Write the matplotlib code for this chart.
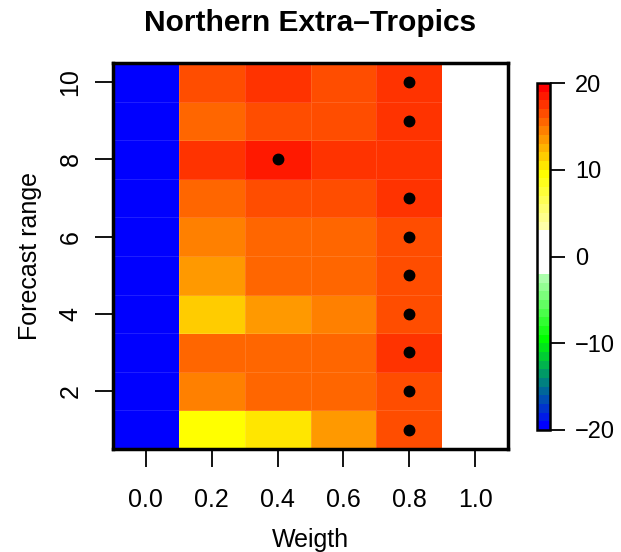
import numpy as np
import matplotlib
matplotlib.use("Agg")
import matplotlib.pyplot as plt
from matplotlib.colors import ListedColormap, BoundaryNorm, to_rgb

plt.rcParams["font.family"] = ["Liberation Sans", "DejaVu Sans"]

# skill score per forecast range (rows) and weight (columns)
weights = [0.0, 0.2, 0.4, 0.6, 0.8, 1.0]
forecast_range = [1, 2, 3, 4, 5, 6, 7, 8, 9, 10]
w_00 = [-20, -20, -20, -20, -20, -20, -20, -20, -20, -20]
w_02 = [9.5, 14.5, 15.5, 11.5, 13.5, 14.5, 15.5, 17.5, 15.5, 16.5]
w_04 = [10.5, 15.5, 15.5, 13.5, 15.5, 15.5, 16.5, 18.5, 16.5, 17.3]
w_06 = [13.5, 15.5, 15.5, 14.5, 15.5, 15.5, 16.5, 17.5, 16.5, 16.5]
w_08 = [16.5, 16.5, 17.5, 16.5, 16.5, 16.5, 17.5, 17.4, 17.5, 17.7]
w_10 = [0, 0, 0, 0, 0, 0, 0, 0, 0, 0]

cbar_ticks = [-20, -10, 0, 10, 20]


def mix(c1, c2, t):
    a, b = np.array(to_rgb(c1)), np.array(to_rgb(c2))
    return tuple(a + (b - a) * t)


# discrete palette, one colour per unit from -20 to 20
bounds = np.arange(-20, 21, 1)
cols = []
for v in bounds[:-1]:
    if v < -10:
        cols.append(mix("#0000ff", "#00ff00", (v + 20) / 10))
    elif v < -2:
        cols.append(mix("#00ff00", "#c4ffc4", (v + 10) / 8))
    elif v < 3:
        cols.append((1, 1, 1))
    elif v < 10:
        cols.append(mix("#ffffc4", "#ffff00", (v - 2) / 7))
    else:
        cols.append(mix("#ffff00", "#ff0000", (v - 9) / 10))
cmap = ListedColormap(cols)
norm = BoundaryNorm(bounds, cmap.N)

z = np.array([w_00, w_02, w_04, w_06, w_08, w_10]).T
x = np.array(weights)
y = np.array(forecast_range)
xe = np.append(x - 0.1, x[-1] + 0.1)
ye = np.append(y - 0.5, y[-1] + 0.5)

fig = plt.figure(figsize=(6.21, 5.52), dpi=100)
ax = fig.add_axes([113 / 621, 1 - 449 / 552, 395 / 621, 386 / 552])
mesh = ax.pcolormesh(xe, ye, z, cmap=cmap, norm=norm,
                     edgecolors=(1, 1, 1, 0.12), linewidth=0.6)

# best weight for each forecast range
best = x[np.argmax(z[:, :-1], axis=1)]
ax.plot(best, y, "o", color="black", ms=7.5)

ax.set_xlim(xe[0], xe[-1])
ax.set_ylim(ye[0], ye[-1])
ax.set_xticks(weights)
ax.set_xticklabels([f"{w:.1f}" for w in weights])
ax.set_yticks([2, 4, 6, 8, 10])
for s in ax.spines.values():
    s.set_linewidth(2.5)
ax.tick_params(axis="both", direction="out", length=13, width=1.3,
               labelsize=18, pad=15)
ax.tick_params(axis="y", labelrotation=90, pad=9)
for lab in ax.get_yticklabels():
    lab.set_va("center")

ax.set_xlabel("Weigth", fontsize=18)
ax.xaxis.set_label_coords(0.5, -0.205)
ax.set_ylabel("Forecast range", fontsize=18)
ax.yaxis.set_label_coords(-0.18, 0.5)

fig.text(310 / 621, 1 - 23 / 552, "Northern Extra\u2013Tropics",
         ha="center", va="center", fontsize=21.5, fontweight="bold")

cax = fig.add_axes([537 / 621, 1 - 430 / 552, 13 / 621, 347 / 552])
cb = fig.colorbar(mesh, cax=cax, ticks=cbar_ticks)
cb.outline.set_linewidth(1.8)
cax.minorticks_off()
cax.tick_params(direction="out", length=11, width=1.3, labelsize=17, pad=7)

fig.savefig("out.png", dpi=100)
